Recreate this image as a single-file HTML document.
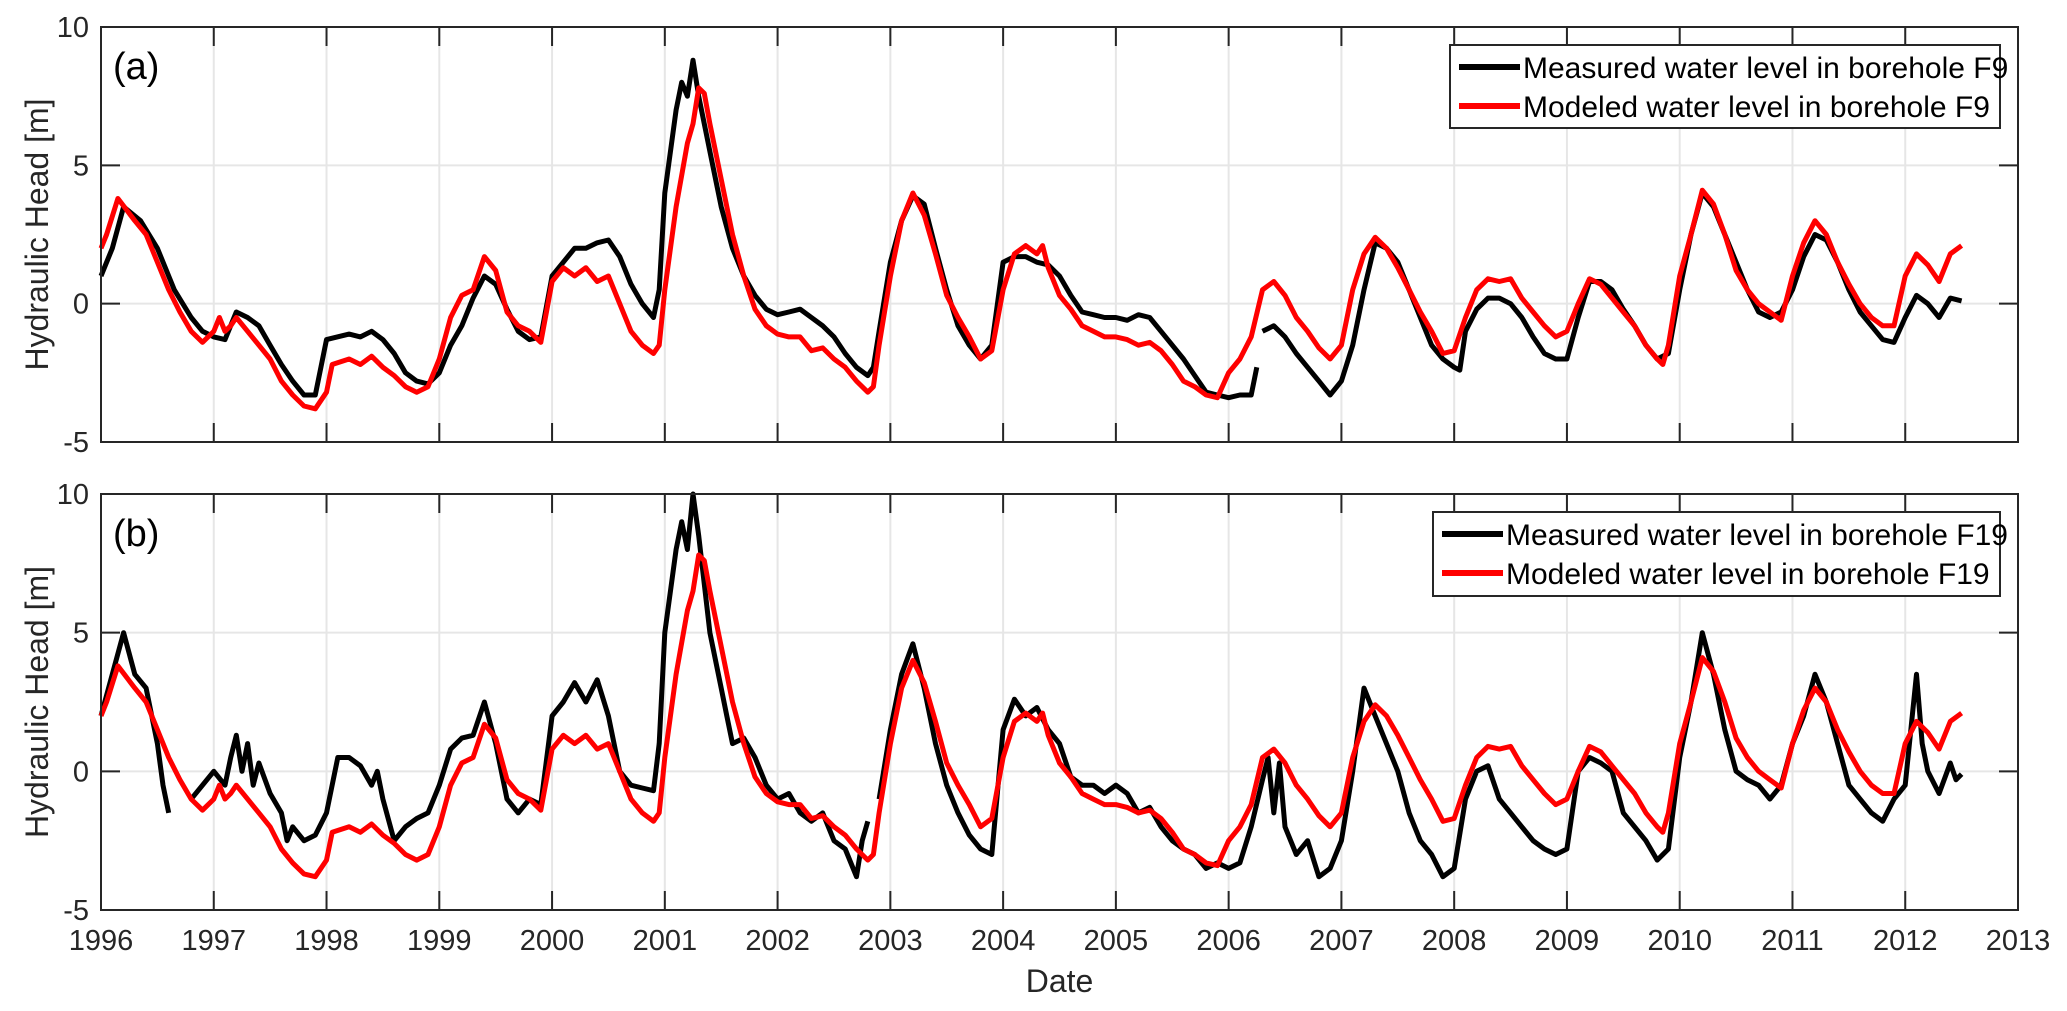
<!DOCTYPE html>
<html><head><meta charset="utf-8"><style>
html,body{margin:0;padding:0;background:#fff}
svg{display:block;font-family:"Liberation Sans",Arial,sans-serif}
</style></head><body>
<svg id="chart" width="2067" height="1011" viewBox="0 0 2067 1011" xmlns="http://www.w3.org/2000/svg"></svg>
<script>
// ---- data ----
const xTicks = [1996,1997,1998,1999,2000,2001,2002,2003,2004,2005,2006,2007,2008,2009,2010,2011,2012,2013];
const yTicks = [-5,0,5,10];

const tMeasA = [1996.0,1996.1,1996.2,1996.35,1996.5,1996.65,1996.8,1996.9,1997.0,1997.1,1997.2,1997.3,1997.4,1997.5,1997.6,1997.7,1997.8,1997.9,1998.0,1998.2,1998.3,1998.4,1998.5,1998.6,1998.7,1998.8,1998.9,1999.0,1999.1,1999.2,1999.3,1999.4,1999.5,1999.6,1999.7,1999.8,1999.9,2000.0,2000.1,2000.2,2000.3,2000.4,2000.5,2000.6,2000.7,2000.8,2000.9,2000.95,2001.0,2001.1,2001.15,2001.2,2001.25,2001.3,2001.4,2001.5,2001.6,2001.7,2001.8,2001.9,2002.0,2002.1,2002.2,2002.3,2002.4,2002.5,2002.6,2002.7,2002.8,2002.85,2002.9,2003.0,2003.1,2003.2,2003.3,2003.4,2003.5,2003.6,2003.7,2003.8,2003.9,2004.0,2004.1,2004.2,2004.3,2004.4,2004.5,2004.6,2004.7,2004.8,2004.9,2005.0,2005.1,2005.2,2005.3,2005.4,2005.5,2005.6,2005.7,2005.8,2005.9,2006.0,2006.1,2006.2,2006.25,2006.27,2006.3,2006.4,2006.5,2006.6,2006.7,2006.8,2006.9,2007.0,2007.1,2007.2,2007.3,2007.4,2007.5,2007.6,2007.7,2007.8,2007.9,2008.0,2008.05,2008.1,2008.2,2008.3,2008.4,2008.5,2008.6,2008.7,2008.8,2008.9,2009.0,2009.1,2009.2,2009.3,2009.4,2009.5,2009.6,2009.7,2009.8,2009.9,2010.0,2010.1,2010.2,2010.3,2010.4,2010.5,2010.6,2010.7,2010.8,2010.9,2011.0,2011.1,2011.2,2011.3,2011.4,2011.5,2011.6,2011.7,2011.8,2011.9,2012.0,2012.1,2012.2,2012.3,2012.4,2012.5];
const vMeasA = [1.0,2.0,3.5,3.0,2.0,0.5,-0.5,-1.0,-1.2,-1.3,-0.3,-0.5,-0.8,-1.5,-2.2,-2.8,-3.3,-3.3,-1.3,-1.1,-1.2,-1.0,-1.3,-1.8,-2.5,-2.8,-2.9,-2.5,-1.5,-0.8,0.2,1.0,0.7,-0.2,-1.0,-1.3,-1.2,1.0,1.5,2.0,2.0,2.2,2.3,1.7,0.7,0,-0.5,0.5,4.0,7.0,8.0,7.5,8.8,7.5,5.5,3.5,2.0,1.0,0.3,-0.2,-0.4,-0.3,-0.2,-0.5,-0.8,-1.2,-1.8,-2.3,-2.6,-2.3,-1.0,1.5,3.0,3.9,3.6,2.0,0.5,-0.8,-1.5,-2.0,-1.5,1.5,1.7,1.7,1.5,1.4,1.0,0.3,-0.3,-0.4,-0.5,-0.5,-0.6,-0.4,-0.5,-1.0,-1.5,-2.0,-2.6,-3.2,-3.3,-3.4,-3.3,-3.3,-2.3,null,-1.0,-0.8,-1.2,-1.8,-2.3,-2.8,-3.3,-2.8,-1.5,0.5,2.2,2.0,1.5,0.5,-0.5,-1.5,-2.0,-2.3,-2.4,-1.0,-0.2,0.2,0.2,0.0,-0.5,-1.2,-1.8,-2.0,-2.0,-0.5,0.8,0.8,0.5,-0.2,-0.8,-1.5,-2.0,-1.8,0.5,2.5,4.0,3.5,2.5,1.5,0.5,-0.3,-0.5,-0.3,0.5,1.7,2.5,2.3,1.5,0.5,-0.3,-0.8,-1.3,-1.4,-0.5,0.3,0.0,-0.5,0.2,0.1];

const tModel = [1996.0,1996.05,1996.15,1996.3,1996.4,1996.5,1996.6,1996.7,1996.8,1996.9,1997.0,1997.05,1997.1,1997.15,1997.2,1997.3,1997.4,1997.5,1997.6,1997.7,1997.8,1997.9,1998.0,1998.05,1998.2,1998.3,1998.4,1998.5,1998.6,1998.7,1998.8,1998.9,1999.0,1999.1,1999.2,1999.3,1999.4,1999.5,1999.6,1999.7,1999.8,1999.9,2000.0,2000.1,2000.2,2000.3,2000.4,2000.5,2000.6,2000.7,2000.8,2000.9,2000.95,2001.0,2001.1,2001.2,2001.25,2001.3,2001.35,2001.4,2001.5,2001.6,2001.7,2001.8,2001.9,2002.0,2002.1,2002.2,2002.3,2002.4,2002.5,2002.6,2002.7,2002.8,2002.85,2002.9,2003.0,2003.1,2003.2,2003.3,2003.4,2003.5,2003.6,2003.7,2003.8,2003.9,2004.0,2004.1,2004.2,2004.3,2004.35,2004.4,2004.5,2004.6,2004.7,2004.8,2004.9,2005.0,2005.1,2005.2,2005.3,2005.4,2005.5,2005.6,2005.7,2005.8,2005.9,2006.0,2006.1,2006.2,2006.3,2006.4,2006.5,2006.6,2006.7,2006.8,2006.9,2007.0,2007.1,2007.2,2007.3,2007.4,2007.5,2007.6,2007.7,2007.8,2007.9,2008.0,2008.1,2008.2,2008.3,2008.4,2008.5,2008.6,2008.7,2008.8,2008.9,2009.0,2009.1,2009.2,2009.3,2009.4,2009.5,2009.6,2009.7,2009.8,2009.85,2009.9,2010.0,2010.1,2010.2,2010.3,2010.4,2010.5,2010.6,2010.7,2010.8,2010.9,2011.0,2011.1,2011.2,2011.3,2011.4,2011.5,2011.6,2011.7,2011.8,2011.9,2012.0,2012.1,2012.2,2012.3,2012.4,2012.5];
const vModel = [2.0,2.5,3.8,3.0,2.5,1.5,0.5,-0.3,-1.0,-1.4,-1.0,-0.5,-1.0,-0.8,-0.5,-1.0,-1.5,-2.0,-2.8,-3.3,-3.7,-3.8,-3.2,-2.2,-2.0,-2.2,-1.9,-2.3,-2.6,-3.0,-3.2,-3.0,-2.0,-0.5,0.3,0.5,1.7,1.2,-0.3,-0.8,-1.0,-1.4,0.8,1.3,1.0,1.3,0.8,1.0,0.0,-1.0,-1.5,-1.8,-1.5,0.5,3.5,5.8,6.5,7.8,7.6,6.5,4.5,2.5,1.0,-0.2,-0.8,-1.1,-1.2,-1.2,-1.7,-1.6,-2.0,-2.3,-2.8,-3.2,-3.0,-1.5,1.0,3.0,4.0,3.2,1.8,0.3,-0.5,-1.2,-2.0,-1.7,0.5,1.8,2.1,1.8,2.1,1.3,0.3,-0.2,-0.8,-1.0,-1.2,-1.2,-1.3,-1.5,-1.4,-1.7,-2.2,-2.8,-3.0,-3.3,-3.4,-2.5,-2.0,-1.2,0.5,0.8,0.3,-0.5,-1.0,-1.6,-2.0,-1.5,0.5,1.8,2.4,2.0,1.3,0.5,-0.3,-1.0,-1.8,-1.7,-0.5,0.5,0.9,0.8,0.9,0.2,-0.3,-0.8,-1.2,-1.0,0.0,0.9,0.7,0.2,-0.3,-0.8,-1.5,-2.0,-2.2,-1.5,1.0,2.5,4.1,3.6,2.5,1.2,0.5,0.0,-0.3,-0.6,1.0,2.2,3.0,2.5,1.5,0.7,0.0,-0.5,-0.8,-0.8,1.0,1.8,1.4,0.8,1.8,2.1];

const tMeasB = [1996.0,1996.1,1996.2,1996.3,1996.4,1996.5,1996.55,1996.6,1996.7,1996.8,1996.9,1997.0,1997.1,1997.15,1997.2,1997.25,1997.3,1997.35,1997.4,1997.5,1997.6,1997.65,1997.7,1997.8,1997.9,1998.0,1998.1,1998.2,1998.3,1998.4,1998.45,1998.5,1998.6,1998.7,1998.8,1998.9,1999.0,1999.1,1999.2,1999.3,1999.4,1999.5,1999.6,1999.7,1999.8,1999.9,2000.0,2000.1,2000.2,2000.3,2000.4,2000.5,2000.6,2000.7,2000.8,2000.9,2000.95,2001.0,2001.1,2001.15,2001.2,2001.25,2001.3,2001.4,2001.5,2001.55,2001.6,2001.7,2001.8,2001.9,2002.0,2002.1,2002.2,2002.3,2002.4,2002.5,2002.6,2002.7,2002.75,2002.8,2002.85,2002.9,2003.0,2003.1,2003.2,2003.3,2003.4,2003.5,2003.6,2003.7,2003.8,2003.9,2004.0,2004.1,2004.2,2004.3,2004.4,2004.5,2004.6,2004.7,2004.8,2004.9,2005.0,2005.1,2005.2,2005.3,2005.4,2005.5,2005.6,2005.7,2005.8,2005.9,2006.0,2006.1,2006.2,2006.3,2006.35,2006.4,2006.45,2006.5,2006.6,2006.7,2006.8,2006.9,2007.0,2007.1,2007.2,2007.3,2007.4,2007.5,2007.6,2007.7,2007.8,2007.9,2008.0,2008.1,2008.2,2008.3,2008.4,2008.5,2008.6,2008.7,2008.8,2008.9,2009.0,2009.1,2009.2,2009.3,2009.4,2009.5,2009.6,2009.7,2009.8,2009.9,2010.0,2010.1,2010.2,2010.3,2010.4,2010.5,2010.6,2010.7,2010.8,2010.9,2011.0,2011.1,2011.2,2011.3,2011.4,2011.5,2011.6,2011.7,2011.8,2011.9,2012.0,2012.1,2012.15,2012.2,2012.3,2012.4,2012.45,2012.5];
const vMeasB = [2.0,3.5,5.0,3.5,3.0,1.0,-0.5,-1.5,null,-1.0,-0.5,0.0,-0.5,0.5,1.3,0.0,1.0,-0.5,0.3,-0.8,-1.5,-2.5,-2.0,-2.5,-2.3,-1.5,0.5,0.5,0.2,-0.5,0.0,-1.0,-2.5,-2.0,-1.7,-1.5,-0.5,0.8,1.2,1.3,2.5,1.0,-1.0,-1.5,-1.0,-1.2,2.0,2.5,3.2,2.5,3.3,2.0,0.0,-0.5,-0.6,-0.7,1.0,5.0,8.0,9.0,8.0,10.0,8.5,5.0,3.0,2.0,1.0,1.2,0.5,-0.5,-1.0,-0.8,-1.5,-1.8,-1.5,-2.5,-2.8,-3.8,-2.5,-1.8,null,-1.0,1.5,3.5,4.6,3.0,1.0,-0.5,-1.5,-2.3,-2.8,-3.0,1.5,2.6,2.0,2.3,1.5,1.0,-0.2,-0.5,-0.5,-0.8,-0.5,-0.8,-1.5,-1.3,-2.0,-2.5,-2.8,-3.0,-3.5,-3.3,-3.5,-3.3,-2.0,-0.3,0.5,-1.5,0.3,-2.0,-3.0,-2.5,-3.8,-3.5,-2.5,0.0,3.0,2.0,1.0,0.0,-1.5,-2.5,-3.0,-3.8,-3.5,-1.0,0.0,0.2,-1.0,-1.5,-2.0,-2.5,-2.8,-3.0,-2.8,0.0,0.5,0.3,0.0,-1.5,-2.0,-2.5,-3.2,-2.8,0.5,2.5,5.0,3.5,1.5,0.0,-0.3,-0.5,-1.0,-0.5,1.0,2.0,3.5,2.5,1.0,-0.5,-1.0,-1.5,-1.8,-1.0,-0.5,3.5,1.0,0.0,-0.8,0.3,-0.3,-0.1];

// ---- layout ----
const NS = "http://www.w3.org/2000/svg";
const svg = document.getElementById('chart');
const X0 = 101, X1 = 2018;
const panels = [
  {id:'a', top:27, bottom:442, label:'(a)', meas:[tMeasA,vMeasA], model:[tModel,vModel],
   legend:['Measured water level in borehole F9','Modeled water level in borehole F9'], lg:{x:1450,y:45,w:550,h:83}},
  {id:'b', top:494, bottom:910, label:'(b)', meas:[tMeasB,vMeasB], model:[tModel,vModel],
   legend:['Measured water level in borehole F19','Modeled water level in borehole F19'], lg:{x:1433,y:512,w:567,h:84}}
];
function xs(t){ return X0 + (t-1996)/(2013-1996)*(X1-X0); }
function mk(tag, attrs, parent){ const e=document.createElementNS(NS,tag); for(const k in attrs) e.setAttribute(k,attrs[k]); (parent||svg).appendChild(e); return e; }

panels.forEach(p=>{
  const ys = v => p.bottom - (v+5)/15*(p.bottom-p.top);
  const g = mk('g',{});
  
  
  mk('rect',{x:X0,y:p.top,width:X1-X0,height:p.bottom-p.top,fill:'#fff'},g);
  xTicks.forEach(t=>{ const l=mk('line',{x1:xs(t),x2:xs(t),y1:p.top,y2:p.bottom,stroke:'#e6e6e6','stroke-width':2},g);
      });
  yTicks.forEach(v=>{ const l=mk('line',{x1:X0,x2:X1,y1:ys(v),y2:ys(v),stroke:'#e6e6e6','stroke-width':2},g);
      });
  function path(ts, vs, color, name){
    let d='', pen=false;
    for(let i=0;i<ts.length;i++){
      if(vs[i]===null){pen=false;continue;}
      d += (pen?'L':'M')+xs(ts[i]).toFixed(1)+','+ys(vs[i]).toFixed(1);
      pen=true;
    }
    const e=mk('path',{d:d,fill:'none',stroke:color,'stroke-width':5,'stroke-linejoin':'round'},g);
    
    
  }
  path(p.meas[0],p.meas[1],'#000','measured-line-'+p.id);
  path(p.model[0],p.model[1],'#ff0000','modeled-line-'+p.id);
  xTicks.forEach(t=>{
    mk('line',{x1:xs(t),x2:xs(t),y1:p.bottom,y2:p.bottom-19,stroke:'#262626','stroke-width':2},g);
    mk('line',{x1:xs(t),x2:xs(t),y1:p.top,y2:p.top+19,stroke:'#262626','stroke-width':2},g);
  });
  yTicks.forEach(v=>{
    mk('line',{x1:X0,x2:X0+19,y1:ys(v),y2:ys(v),stroke:'#262626','stroke-width':2},g);
    mk('line',{x1:X1,x2:X1-19,y1:ys(v),y2:ys(v),stroke:'#262626','stroke-width':2},g);
    const tx=mk('text',{x:X0-12,y:ys(v)+10,'text-anchor':'end','font-size':29,fill:'#262626'},g);
    tx.textContent=v;
    
    
  });
  mk('rect',{x:X0,y:p.top,width:X1-X0,height:p.bottom-p.top,fill:'none',stroke:'#262626','stroke-width':2},g);
  const pl=mk('text',{x:X0+12,y:p.top+52,'font-size':38,fill:'#000'},g);
  pl.textContent=p.label;
  
  
  const yl=mk('text',{x:0,y:0,'font-size':32,fill:'#262626','text-anchor':'middle',transform:`translate(48,${(p.top+p.bottom)/2}) rotate(-90)`},g);
  yl.textContent='Hydraulic Head [m]';
  
  
  const lgG=mk('g',{},g);
  
  
  mk('rect',{x:p.lg.x,y:p.lg.y,width:p.lg.w,height:p.lg.h,fill:'#fff',stroke:'#262626','stroke-width':2},lgG);
  [['#000',p.legend[0]],['#ff0000',p.legend[1]]].forEach((e,i)=>{
    const cy=p.lg.y+22+i*39;
    mk('line',{x1:p.lg.x+9,x2:p.lg.x+70,y1:cy,y2:cy,stroke:e[0],'stroke-width':6},lgG);
    const t=mk('text',{x:p.lg.x+73,y:cy+11,'font-size':30,fill:'#000'},lgG);
    t.textContent=e[1];
    
    
  });
});
xTicks.forEach(t=>{
  const tx=mk('text',{x:xs(t),y:950,'text-anchor':'middle','font-size':29,fill:'#262626'});
  tx.textContent=t;
  
  
});
const xl=mk('text',{x:(X0+X1)/2,y:992,'text-anchor':'middle','font-size':32,fill:'#262626'});
xl.textContent='Date';


</script>
</body></html>
